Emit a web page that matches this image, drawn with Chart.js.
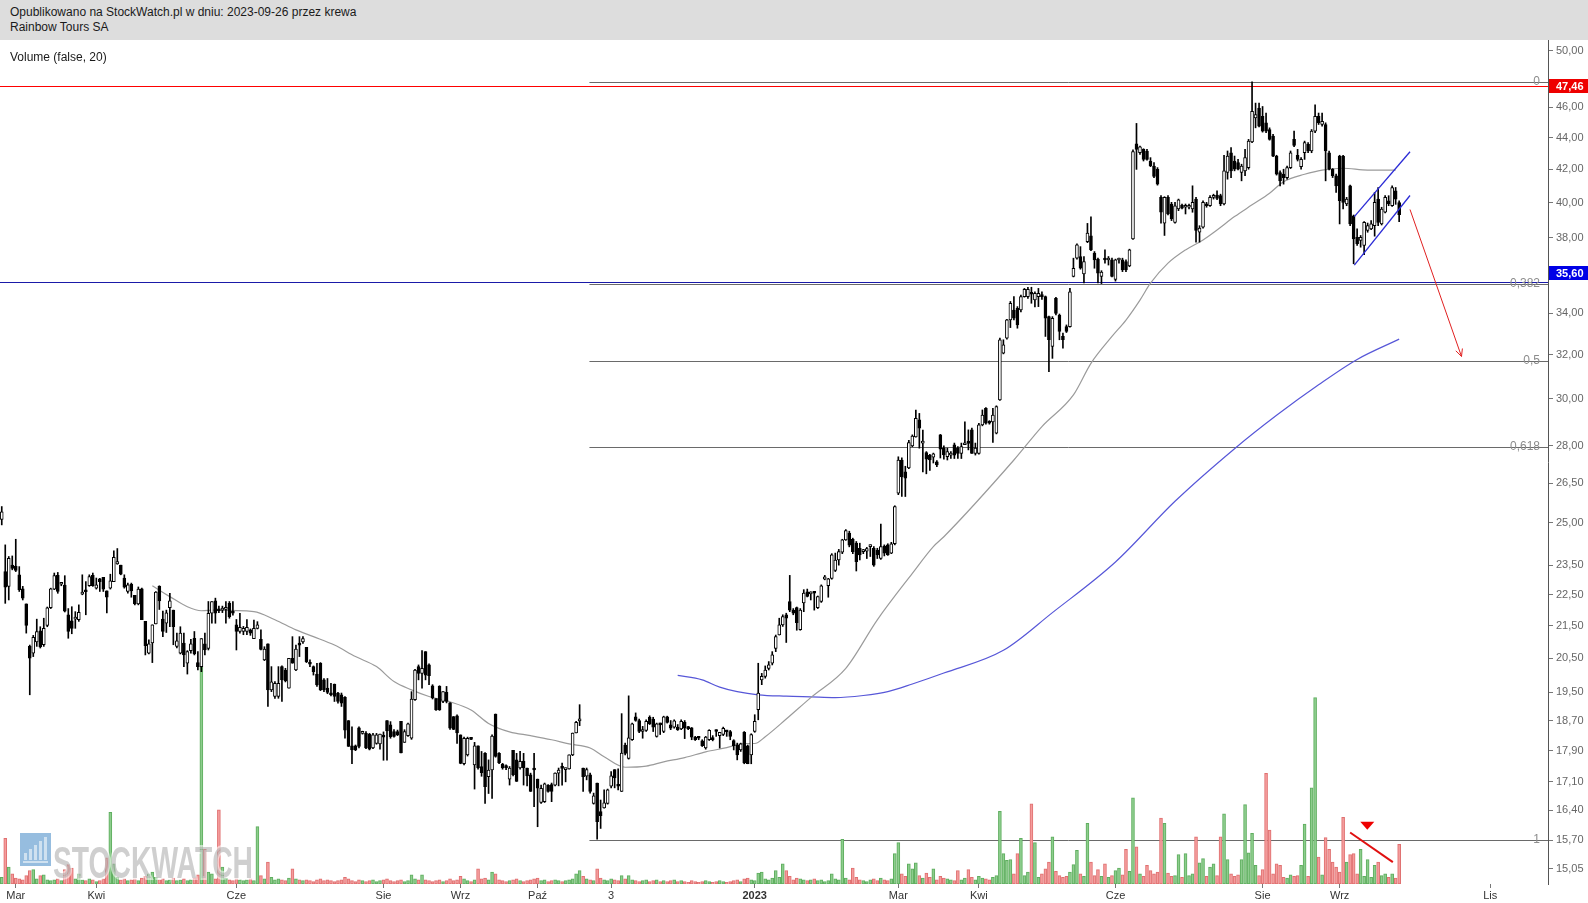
<!DOCTYPE html>
<html>
<head>
<meta charset="utf-8">
<script src="https://cdn.jsdelivr.net/npm/chart.js@4.4.0/dist/chart.umd.min.js"></script>
<style>
  html, body { margin: 0; padding: 0; background: #fff; }
  body { width: 1588px; height: 903px; overflow: hidden; font-family: "Liberation Sans", Arial, sans-serif; }
  .header { height: 40px; background: #dddddd; color: #1a1a1a; font-size: 12px; line-height: 15px; padding: 5px 0 0 10px; box-sizing: border-box; }
  .wrap { position: relative; width: 1588px; height: 863px; }
</style>
</head>
<body>
<div class="header">Opublikowano na StockWatch.pl w dniu: 2023-09-26 przez krewa<br>Rainbow Tours SA</div>
<div class="wrap"><canvas id="chart" width="1588" height="863"></canvas></div>
<script>
// x axis month labels (trading-day index -> label)
const monthIdx = [4, 27, 67, 109, 131, 153, 174, 215, 256, 279, 318, 360, 382, 425];
const monthText = ['Mar', 'Kwi', 'Cze', 'Sie', 'Wrz', 'Paź', '3', '2023', 'Mar', 'Kwi', 'Cze', 'Sie', 'Wrz', 'Lis'];
const priceTicks = [50, 46, 44, 42, 40, 38, 36, 34, 32, 30, 28, 26.5, 25, 23.5, 22.5, 21.5, 20.5, 19.5, 18.7, 17.9, 17.1, 16.4, 15.7, 15.05];

// daily OHLC, 2022-02-23 .. 2023-09-26
const open = [
  25.13, 23.28, 22.78, 23.5, 23.47, 23.17, 22.7, 22.2, 20.86, 20.65,
  21.0, 21.34, 20.91, 21.51, 22.08, 22.69, 23.15, 22.85, 22.82, 21.85,
  21.66, 21.71, 21.69, 22.52, 22.64, 22.8, 23.15, 22.72, 23.03, 23.08,
  22.63, 22.72, 22.94, 23.54, 23.5, 23.06, 22.61, 22.85, 22.48, 22.2,
  22.7, 21.64, 20.65, 20.97, 21.56, 22.78, 21.71, 21.58, 22.08, 22.0,
  20.86, 20.65, 20.96, 20.35, 20.73, 21.11, 20.37, 20.25, 20.94, 20.8,
  21.9, 22.3, 22.0, 22.0, 22.02, 22.22, 21.95, 21.53, 21.32, 21.32,
  21.32, 21.37, 21.1, 21.42, 21.08, 20.45, 20.94, 19.57, 19.38, 19.38,
  20.25, 20.15, 19.62, 20.5, 20.15, 20.94, 21.0, 20.83, 20.35, 20.25,
  20.03, 20.35, 19.86, 19.62, 19.47, 19.73, 19.48, 19.43, 19.36, 18.71,
  18.03, 18.03, 18.51, 18.36, 18.36, 18.34, 17.97, 18.09, 18.08, 18.3,
  18.71, 18.59, 18.41, 18.41, 18.69, 18.12, 18.3, 18.23, 19.29, 20.25,
  20.05, 20.7, 20.3, 19.69, 19.32, 19.67, 19.24, 19.5, 19.2, 18.82,
  18.84, 18.32, 17.56, 17.79, 18.21, 17.53, 18.03, 17.49, 17.83, 17.23,
  17.4, 18.89, 17.83, 17.55, 17.47, 17.17, 17.91, 17.66, 17.45, 17.62,
  17.45, 17.28, 17.42, 17.17, 16.59, 16.61, 17.01, 17.03, 17.02, 17.32,
  17.45, 17.41, 17.43, 17.79, 18.37, 18.7, 17.45, 17.24, 17.28, 16.57,
  17.07, 16.37, 16.46, 16.57, 16.99, 17.41, 17.03, 16.86, 18.05, 17.7,
  18.19, 18.81, 18.71, 18.41, 18.44, 18.8, 18.75, 18.28, 18.6, 18.41,
  18.81, 18.59, 18.53, 18.53, 18.48, 18.66, 18.5, 18.51, 18.26, 18.24,
  18.16, 17.97, 18.19, 18.25, 18.42, 18.3, 18.33, 18.41, 18.41, 18.17,
  18.05, 17.92, 18.39, 18.03, 17.79, 18.41, 19.01, 19.86, 19.96, 20.2,
  20.35, 20.8, 21.21, 21.53, 21.85, 22.28, 22.0, 22.08, 21.38, 22.23,
  22.6, 22.53, 22.56, 22.08, 22.28, 23.02, 22.8, 23.05, 23.32, 23.68,
  23.95, 24.39, 24.63, 24.41, 24.27, 24.09, 23.97, 23.99, 24.15, 24.09,
  24.03, 23.73, 24.17, 24.21, 23.92, 24.25, 26.12, 27.42, 26.95, 27.1,
  27.99, 28.37, 29.08, 28.11, 27.72, 27.61, 27.53, 27.35, 28.45, 27.9,
  27.55, 27.62, 28.04, 27.9, 27.69, 28.04, 28.11, 28.66, 27.69, 27.69,
  28.87, 29.58, 29.0, 29.0, 28.52, 29.95, 32.07, 32.79, 33.68, 34.17,
  34.25, 34.17, 34.85, 34.85, 34.98, 34.68, 34.85, 34.93, 34.85, 33.84,
  32.39, 34.76, 33.92, 32.87, 33.35, 33.35, 35.9, 36.87, 36.96, 36.03,
  37.78, 38.1, 37.14, 36.82, 35.9, 36.78, 36.77, 36.78, 35.74, 36.77,
  36.78, 36.69, 36.45, 37.93, 43.6, 43.04, 43.25, 43.15, 42.52, 42.21,
  42.01, 40.31, 38.82, 40.31, 39.92, 38.86, 39.63, 39.86, 39.73, 39.73,
  39.63, 40.21, 38.3, 38.58, 39.92, 39.82, 40.31, 40.44, 40.41, 39.92,
  41.81, 43.04, 42.52, 42.42, 41.81, 41.91, 42.11, 43.72, 45.29, 45.95,
  45.4, 44.97, 44.53, 44.1, 42.83, 41.81, 41.71, 41.5, 42.11, 43.89,
  42.88, 42.17, 43.04, 43.57, 43.15, 44.42, 45.4, 44.86, 44.86, 43.04,
  42.01, 41.61, 42.83, 42.83, 39.92, 41.0, 39.24, 38.02, 37.84, 37.56,
  38.4, 38.49, 38.67, 40.21, 38.77, 39.44, 40.11, 39.82, 40.7, 40.0
];
const high = [
  25.61, 24.21, 23.8, 23.82, 24.41, 23.45, 22.78, 22.2, 20.9, 21.2,
  21.71, 21.47, 21.74, 22.1, 22.72, 23.23, 23.25, 22.89, 23.14, 22.05,
  22.11, 21.95, 22.17, 23.17, 22.94, 23.17, 23.23, 23.06, 23.05, 23.08,
  22.63, 23.19, 24.0, 24.08, 23.5, 23.17, 22.89, 22.89, 22.48, 22.76,
  22.72, 21.64, 21.06, 21.53, 22.61, 22.8, 21.97, 22.0, 22.55, 22.0,
  21.27, 21.47, 21.27, 20.73, 21.08, 21.32, 20.7, 21.1, 21.27, 22.28,
  22.28, 22.39, 22.13, 22.13, 22.28, 22.28, 22.28, 21.7, 21.9, 21.48,
  21.7, 21.4, 21.68, 21.63, 21.37, 20.85, 20.94, 20.25, 19.81, 20.25,
  20.27, 20.2, 20.5, 21.16, 20.9, 21.16, 21.16, 20.83, 20.45, 20.27,
  20.35, 20.37, 19.9, 19.9, 19.76, 19.74, 19.5, 19.48, 19.38, 18.71,
  18.54, 18.05, 18.54, 18.42, 18.41, 18.36, 18.36, 18.36, 18.34, 18.4,
  18.71, 18.68, 18.46, 18.45, 18.69, 18.46, 18.64, 19.52, 20.17, 20.3,
  20.73, 20.7, 20.33, 19.72, 19.32, 19.69, 19.52, 19.67, 19.21, 18.82,
  18.87, 18.32, 18.26, 18.26, 18.22, 18.12, 18.03, 17.88, 17.85, 17.66,
  18.32, 18.89, 17.85, 17.57, 17.53, 17.49, 17.91, 17.83, 17.88, 17.83,
  17.45, 17.32, 17.83, 17.17, 17.02, 17.07, 17.03, 17.07, 17.33, 17.45,
  17.58, 17.45, 17.79, 18.37, 18.69, 19.15, 17.45, 17.45, 17.32, 16.82,
  17.07, 16.65, 16.9, 16.92, 17.36, 17.41, 17.43, 18.9, 18.1, 19.4,
  18.64, 18.92, 18.75, 18.55, 18.73, 18.84, 18.8, 18.64, 18.64, 18.83,
  18.83, 18.71, 18.73, 18.6, 18.73, 18.71, 18.55, 18.52, 18.28, 18.28,
  18.19, 18.28, 18.46, 18.3, 18.46, 18.39, 18.53, 18.44, 18.44, 18.19,
  18.1, 18.1, 18.41, 18.05, 18.35, 18.87, 20.35, 20.05, 20.27, 20.4,
  20.7, 21.21, 21.74, 21.85, 21.9, 23.15, 22.05, 22.1, 22.05, 22.67,
  22.69, 22.6, 22.6, 22.46, 22.83, 23.15, 23.05, 23.9, 23.92, 24.05,
  24.41, 24.76, 24.7, 24.45, 24.33, 24.27, 24.05, 24.12, 24.21, 24.15,
  24.09, 24.96, 24.21, 24.25, 24.3, 25.64, 27.55, 27.51, 27.17, 28.22,
  28.45, 29.5, 29.36, 28.65, 27.76, 27.65, 27.7, 27.4, 28.47, 28.0,
  27.9, 27.76, 28.11, 27.97, 28.11, 29.0, 28.66, 28.73, 28.11, 28.94,
  29.51, 29.61, 29.05, 29.58, 29.69, 32.79, 32.71, 33.71, 34.6, 34.85,
  34.34, 34.93, 35.27, 35.33, 35.33, 35.1, 35.27, 35.1, 34.88, 33.87,
  33.84, 34.81, 33.97, 33.03, 33.43, 35.27, 36.87, 37.65, 37.5, 36.96,
  38.8, 39.18, 37.23, 36.87, 36.2, 37.32, 36.96, 36.87, 36.82, 36.87,
  36.87, 36.78, 37.36, 43.22, 44.93, 43.46, 43.29, 43.25, 42.73, 42.42,
  42.11, 40.41, 40.35, 40.41, 40.02, 40.02, 40.21, 39.92, 39.92, 39.92,
  41.0, 40.31, 38.67, 40.11, 40.02, 40.41, 40.5, 40.7, 40.5, 42.88,
  43.15, 43.36, 42.83, 42.62, 42.32, 43.25, 43.89, 47.75, 46.29, 46.29,
  46.06, 45.62, 44.64, 44.21, 42.88, 41.91, 42.01, 42.21, 43.15, 44.42,
  43.25, 42.73, 43.78, 43.68, 44.53, 46.18, 45.62, 45.62, 44.97, 43.15,
  42.05, 41.71, 42.88, 42.88, 40.31, 41.04, 39.28, 38.49, 38.12, 38.9,
  38.82, 38.96, 40.6, 40.9, 39.73, 40.41, 40.41, 41.0, 40.9, 40.1
];
const low = [
  24.93, 22.22, 22.33, 23.34, 23.28, 22.61, 22.33, 21.27, 19.43, 20.55,
  20.86, 20.81, 20.86, 21.47, 22.05, 22.67, 22.55, 22.8, 21.94, 21.11,
  21.25, 21.42, 21.64, 22.5, 21.85, 22.78, 22.78, 22.69, 22.61, 22.61,
  21.91, 22.69, 22.94, 23.53, 23.17, 22.72, 22.55, 22.42, 22.17, 22.17,
  21.69, 20.6, 20.63, 20.37, 21.56, 22.02, 21.16, 21.29, 21.47, 20.91,
  20.81, 20.63, 20.25, 20.03, 20.65, 20.6, 20.15, 20.1, 20.6, 20.75,
  21.58, 21.58, 21.92, 21.92, 21.58, 21.74, 21.84, 20.75, 21.27, 21.22,
  21.22, 21.2, 21.1, 21.4, 20.75, 20.43, 19.1, 19.52, 19.33, 19.33,
  19.24, 19.8, 19.62, 20.35, 20.13, 20.55, 20.95, 20.37, 20.25, 20.0,
  19.67, 19.55, 19.52, 19.46, 19.4, 19.24, 19.19, 19.1, 18.23, 18.01,
  17.56, 17.9, 17.97, 18.34, 17.95, 17.92, 17.95, 18.07, 17.94, 17.65,
  17.65, 18.23, 18.26, 18.3, 17.84, 18.12, 18.28, 18.2, 19.27, 19.86,
  19.62, 19.86, 19.72, 19.31, 18.99, 18.99, 19.21, 19.2, 18.47, 18.46,
  18.09, 17.56, 17.53, 17.76, 18.19, 16.92, 17.42, 17.24, 16.57, 16.81,
  16.69, 17.73, 17.56, 17.42, 17.41, 17.02, 17.25, 17.11, 17.42, 17.02,
  17.0, 16.86, 16.49, 16.01, 16.57, 16.59, 16.84, 16.61, 17.0, 17.0,
  17.02, 17.1, 17.42, 17.77, 18.37, 18.57, 16.86, 17.15, 16.82, 16.55,
  15.72, 15.97, 16.45, 16.55, 16.95, 16.95, 16.9, 16.86, 17.79, 17.68,
  18.17, 18.69, 18.38, 18.23, 18.41, 18.6, 18.41, 18.26, 18.33, 18.38,
  18.64, 18.46, 18.5, 18.44, 18.46, 18.22, 18.46, 18.19, 18.17, 18.19,
  18.01, 17.94, 18.17, 18.16, 18.28, 17.97, 18.3, 18.28, 18.19, 17.92,
  17.66, 17.88, 17.56, 17.56, 17.56, 18.39, 18.73, 19.72, 19.91, 20.15,
  20.3, 20.7, 21.21, 21.48, 20.98, 21.95, 21.85, 21.36, 21.36, 21.95,
  22.43, 22.33, 22.0, 22.05, 22.25, 23.0, 22.42, 23.02, 23.28, 23.5,
  23.9, 24.37, 24.14, 23.9, 23.3, 23.68, 23.9, 23.73, 23.8, 23.46,
  23.73, 23.7, 23.82, 23.84, 23.9, 24.21, 26.06, 25.99, 25.99, 27.07,
  27.96, 28.35, 27.9, 26.95, 26.87, 27.0, 27.3, 27.15, 27.5, 27.45,
  27.42, 27.48, 27.48, 27.48, 27.48, 28.04, 27.83, 27.69, 27.62, 27.66,
  28.83, 28.9, 28.9, 28.14, 28.49, 29.92, 32.04, 32.74, 33.3, 33.68,
  33.27, 34.08, 34.82, 34.76, 34.51, 34.32, 34.34, 34.71, 32.87, 31.22,
  31.83, 33.92, 32.71, 32.31, 33.06, 33.32, 35.87, 36.82, 36.28, 35.55,
  37.72, 37.28, 36.33, 35.55, 35.52, 36.6, 36.5, 35.87, 35.65, 36.6,
  36.15, 36.15, 36.41, 37.9, 42.0, 42.94, 42.52, 42.57, 42.17, 41.5,
  41.04, 38.82, 38.12, 39.28, 38.96, 38.82, 39.53, 39.63, 39.34, 39.63,
  39.44, 37.75, 37.75, 38.53, 39.73, 39.78, 40.21, 40.17, 39.82, 39.86,
  41.4, 41.5, 41.91, 41.97, 41.3, 41.61, 42.01, 43.68, 44.64, 44.7,
  44.36, 44.32, 43.84, 42.79, 41.65, 41.0, 41.1, 41.4, 42.05, 43.42,
  42.52, 42.01, 42.62, 43.04, 43.04, 44.32, 44.86, 44.75, 41.3, 41.97,
  41.5, 40.6, 38.77, 39.63, 39.82, 38.67, 36.57, 37.56, 37.47, 37.06,
  38.3, 38.45, 38.08, 38.67, 38.71, 39.4, 39.82, 39.78, 39.9, 38.9
];
const close = [
  25.41, 22.75, 23.74, 23.39, 23.32, 22.67, 22.39, 21.51, 20.5, 21.14,
  21.32, 20.84, 21.42, 22.07, 22.7, 23.14, 22.61, 22.87, 21.97, 21.32,
  21.42, 21.74, 21.93, 22.59, 22.6, 23.11, 22.8, 22.83, 22.94, 22.69,
  22.42, 22.97, 23.77, 23.62, 23.19, 22.75, 22.83, 22.63, 22.2, 22.69,
  21.69, 20.88, 20.94, 21.53, 22.59, 22.3, 21.32, 21.91, 22.3, 21.47,
  21.03, 21.27, 20.6, 20.7, 20.94, 20.63, 20.25, 21.1, 20.75, 21.9,
  22.28, 21.9, 21.98, 22.02, 22.09, 21.79, 21.9, 21.32, 21.45, 21.42,
  21.45, 21.27, 21.42, 21.53, 20.77, 20.78, 19.57, 19.8, 19.76, 19.76,
  19.86, 19.83, 20.5, 20.35, 20.78, 20.9, 21.1, 20.4, 20.32, 20.1,
  19.71, 19.57, 19.57, 19.5, 19.43, 19.38, 19.24, 19.19, 18.45, 18.01,
  17.92, 17.92, 18.01, 18.41, 17.97, 17.94, 18.32, 18.32, 18.34, 18.26,
  18.43, 18.27, 18.28, 18.32, 17.84, 18.41, 18.62, 19.31, 20.15, 20.05,
  20.2, 20.0, 19.98, 19.34, 19.0, 19.0, 19.52, 19.24, 18.5, 18.47,
  18.37, 17.57, 18.23, 18.23, 18.2, 18.03, 17.45, 17.33, 16.98, 17.4,
  18.29, 17.75, 17.59, 17.45, 17.46, 17.45, 17.28, 17.11, 17.62, 17.45,
  17.25, 16.86, 17.4, 16.94, 16.94, 17.05, 16.86, 16.86, 17.32, 17.4,
  17.44, 17.45, 17.79, 18.37, 18.66, 18.72, 17.23, 17.41, 16.86, 16.75,
  16.13, 16.27, 16.58, 16.9, 17.25, 17.2, 16.99, 17.84, 17.83, 18.24,
  18.62, 18.71, 18.41, 18.46, 18.69, 18.62, 18.53, 18.62, 18.59, 18.81,
  18.66, 18.5, 18.7, 18.46, 18.69, 18.5, 18.49, 18.26, 18.19, 18.23,
  18.03, 18.26, 18.44, 18.19, 18.41, 18.39, 18.5, 18.4, 18.28, 18.03,
  17.79, 18.08, 17.58, 17.56, 18.33, 18.69, 19.48, 19.96, 20.15, 20.3,
  20.6, 21.16, 21.53, 21.79, 21.74, 22.0, 21.9, 21.6, 22.0, 22.56,
  22.45, 22.58, 22.55, 22.44, 22.8, 23.1, 23.03, 23.86, 23.68, 23.97,
  24.39, 24.72, 24.2, 23.97, 23.62, 23.86, 24.03, 24.08, 24.17, 23.5,
  23.86, 24.15, 23.92, 23.86, 24.25, 25.61, 27.42, 26.75, 26.7, 28.13,
  28.4, 29.15, 28.73, 28.17, 27.45, 27.42, 27.67, 27.22, 27.86, 27.63,
  27.76, 27.63, 27.62, 27.69, 27.97, 28.11, 28.1, 27.69, 27.9, 28.87,
  29.29, 28.94, 28.94, 29.29, 29.66, 32.71, 32.47, 33.68, 34.51, 33.76,
  33.43, 34.85, 35.22, 35.22, 34.97, 35.02, 35.02, 34.85, 33.76, 32.71,
  33.76, 34.0, 33.11, 32.71, 33.11, 35.1, 36.33, 37.6, 36.33, 36.69,
  38.25, 37.32, 36.78, 36.07, 36.12, 36.77, 36.78, 35.9, 36.78, 36.78,
  36.24, 36.24, 37.32, 43.11, 43.25, 43.42, 42.62, 42.62, 42.21, 41.57,
  41.1, 39.44, 40.31, 39.34, 39.05, 39.82, 40.17, 39.67, 39.82, 39.82,
  40.02, 38.4, 38.53, 40.02, 39.82, 40.31, 40.41, 40.25, 39.92, 41.91,
  42.83, 41.91, 42.01, 42.01, 42.21, 42.73, 43.78, 45.73, 45.51, 44.75,
  44.42, 44.42, 43.89, 42.83, 41.71, 41.3, 41.5, 42.11, 43.04, 43.51,
  42.62, 42.62, 43.68, 43.15, 44.42, 45.4, 44.97, 45.07, 43.15, 42.01,
  41.61, 41.0, 40.11, 40.02, 40.21, 38.77, 37.93, 37.66, 38.02, 38.86,
  38.67, 38.77, 40.02, 38.86, 39.63, 40.31, 39.92, 40.9, 40.2, 39.3
];
// volume, thousands of shares
const volume = [
  8, 54, 20, 12, 7, 6, 5, 10, 16, 17,
  6, 10, 11, 5, 4, 5, 6, 4, 17, 23,
  19, 6, 12, 5, 4, 6, 5, 3, 4, 6,
  31, 85, 24, 8, 5, 6, 4, 5, 6, 4,
  7, 9, 12, 14, 8, 5, 6, 4, 5, 7,
  4, 5, 6, 4, 5, 7, 11, 257, 41, 14,
  12, 6, 88, 20, 7, 5, 4, 6, 5, 4,
  5, 6, 4, 68, 10, 6, 26, 8, 5, 6,
  5, 4, 7, 18, 6, 5, 4, 5, 4, 3,
  5, 6, 4, 5, 4, 3, 4, 5, 8, 6,
  4, 3, 5, 4, 3, 4, 5, 3, 4, 5,
  6, 4, 3, 4, 5, 3, 4, 11, 6, 5,
  11, 5, 4, 3, 4, 5, 3, 4, 6, 4,
  5, 9, 6, 4, 3, 5, 18, 6, 7, 5,
  14, 12, 5, 4, 3, 4, 5, 6, 4, 3,
  4, 5, 6, 7, 4, 5, 3, 4, 5, 4,
  3, 4, 5, 6, 12, 16, 9, 6, 5, 4,
  18, 7, 5, 4, 6, 5, 4, 10, 6, 10,
  5, 4, 3, 4, 5, 3, 4, 5, 3, 4,
  3, 4, 5, 3, 4, 3, 2, 4, 3, 2,
  3, 4, 3, 2, 3, 4, 3, 2, 3, 4,
  5, 3, 6, 7, 5, 4, 13, 14, 6, 5,
  7, 16, 8, 24, 16, 9, 5, 7, 6, 5,
  4, 5, 6, 4, 5, 3, 4, 12, 6, 5,
  53, 7, 5, 19, 8, 5, 4, 3, 5, 6,
  4, 7, 5, 4, 6, 36, 49, 12, 9, 24,
  18, 25, 10, 7, 13, 8, 18, 5, 9, 7,
  6, 5, 4, 16, 5, 7, 17, 8, 5, 9,
  7, 6, 5, 8, 10, 86, 36, 28, 29, 12,
  36, 54, 10, 14, 95, 49, 8, 12, 18, 26,
  56, 15, 10, 8, 9, 14, 23, 40, 12, 9,
  72, 26, 10, 17, 9, 24, 8, 10, 16, 19,
  11, 41, 15, 102, 44, 12, 9, 22, 16, 12,
  14, 78, 72, 13, 9, 10, 35, 8, 36, 10,
  12, 56, 25, 30, 9, 20, 24, 10, 56, 83,
  29, 12, 9, 11, 29, 94, 37, 60, 22, 10,
  17, 131, 64, 12, 24, 22, 8, 7, 11, 9,
  10, 22, 71, 9, 114, 221, 32, 11, 55, 41,
  26, 20, 14, 79, 26, 35, 36, 12, 41, 9,
  29, 8, 22, 26, 10, 12, 8, 12, 7, 47
];

// moving averages (index, value)
const grayIdx = [43, 48, 53, 57, 61, 72, 78, 84, 89, 95, 101, 107, 112, 117, 122, 128, 134, 139, 145, 151, 157, 162, 168, 172, 178, 184, 189, 195, 201, 207, 212, 215, 218, 224, 231, 241, 250, 260, 266, 269, 289, 297, 306, 311, 317, 321, 325, 328, 333, 338, 343, 347, 352, 357, 362, 366, 372, 377, 383, 390, 398];
const grayVal = [22.8, 22.44, 22.11, 21.98, 22.0, 21.95, 21.69, 21.37, 21.16, 20.9, 20.55, 20.25, 19.81, 19.57, 19.38, 19.23, 19.0, 18.63, 18.4, 18.3, 18.19, 18.08, 17.97, 17.74, 17.47, 17.5, 17.61, 17.72, 17.87, 17.98, 18.09, 18.09, 18.27, 18.75, 19.35, 20.2, 21.69, 23.22, 24.15, 24.5, 27.42, 28.8, 30.17, 31.6, 32.87, 33.67, 34.67, 35.54, 36.6, 37.32, 37.87, 38.43, 39.19, 39.87, 40.56, 41.25, 41.7, 41.96, 42.07, 41.96, 41.96];
const blueIdx = [193, 200, 205, 210, 216, 224, 231, 238, 246, 253, 260, 269, 286, 300, 318, 335, 352, 364, 376, 387, 399];
const blueVal = [19.99, 19.86, 19.65, 19.52, 19.43, 19.39, 19.37, 19.35, 19.41, 19.52, 19.74, 20.06, 20.74, 21.92, 23.61, 25.81, 27.88, 29.28, 30.62, 31.78, 32.74];

// drawn studies
const fibHigh = 47.75, fibLow = 15.70, fibStart = 167.8;
const fibLevels = [0, 0.382, 0.5, 0.618, 1];
const fibText = ['0', '0,382', '0,5', '0,618', '1'];
const redLevel = 47.46, blueLevel = 35.60;
const channelUpper = [[386.2, 39.19], [402.1, 43.1]];
const channelLower = [[386.2, 36.5], [402.1, 40.42]];
const arrowPts = [[402.1, 39.6], [416.8, 31.92]];
const volLine = [[385.0, 61], [397.2, 26]];
const volMarker = [389.9, 69];

const N = 442;
const labels = Array.from({ length: N }, (_, i) => i);
const up = close.map((c, i) => c >= open[i]);
const wickData = high.map((h, i) => [low[i], h]);
const bodyData = open.map((o, i) => [Math.min(o, close[i]), Math.max(o, close[i])]);

function sparse(idx, val) {
    const arr = new Array(N).fill(null);
    idx.forEach((i, k) => { arr[i] = val[k]; });
    return arr;
}

const FONT = '"Liberation Sans", Arial, sans-serif';

const studies = {
    id: 'studies',
    beforeDatasetsDraw(chart) {
        const { ctx, chartArea: a, scales: { x, y } } = chart;
        ctx.save();
        ctx.lineWidth = 1;
        // fibonacci retracement lines
        ctx.strokeStyle = '#6a6a6a';
        const fx = x.getPixelForValue(fibStart);
        fibLevels.forEach(l => {
            const py = Math.round(y.getPixelForValue(fibHigh - l * (fibHigh - fibLow))) + 0.5;
            ctx.beginPath(); ctx.moveTo(fx, py); ctx.lineTo(a.right, py); ctx.stroke();
        });
        // horizontal levels
        [[redLevel, '#ff0000'], [blueLevel, '#1a1aa8']].forEach(([v, c]) => {
            const py = Math.round(y.getPixelForValue(v)) + 0.5;
            ctx.strokeStyle = c;
            ctx.beginPath(); ctx.moveTo(a.left, py); ctx.lineTo(a.right, py); ctx.stroke();
        });
        ctx.restore();
    },
    afterDatasetsDraw(chart) {
        const { ctx, chartArea: a, scales: { x, y, vol } } = chart;
        const P = p => [x.getPixelForValue(p[0]), y.getPixelForValue(p[1])];
        ctx.save();

        // fib labels
        ctx.font = '12px ' + FONT;
        ctx.fillStyle = '#8c8c8c';
        ctx.textAlign = 'right';
        ctx.textBaseline = 'middle';
        fibLevels.forEach((l, k) => {
            const py = y.getPixelForValue(fibHigh - l * (fibHigh - fibLow));
            ctx.fillText(fibText[k], a.right - 8, py);
        });

        // channel
        ctx.strokeStyle = '#2b2bd6';
        ctx.lineWidth = 1.3;
        [channelUpper, channelLower].forEach(seg => {
            const p0 = P(seg[0]), p1 = P(seg[1]);
            ctx.beginPath(); ctx.moveTo(p0[0], p0[1]); ctx.lineTo(p1[0], p1[1]); ctx.stroke();
        });

        // arrow
        ctx.strokeStyle = '#e02020';
        ctx.lineWidth = 1;
        const a0 = P(arrowPts[0]), a1 = P(arrowPts[1]);
        ctx.beginPath(); ctx.moveTo(a0[0], a0[1]); ctx.lineTo(a1[0], a1[1]); ctx.stroke();
        const ang = Math.atan2(a1[1] - a0[1], a1[0] - a0[0]);
        [0.45, -0.45].forEach(d => {
            ctx.beginPath();
            ctx.moveTo(a1[0], a1[1]);
            ctx.lineTo(a1[0] - 8 * Math.cos(ang + d), a1[1] - 8 * Math.sin(ang + d));
            ctx.stroke();
        });

        // volume divergence mark
        ctx.strokeStyle = '#e01010';
        ctx.lineWidth = 2;
        ctx.beginPath();
        ctx.moveTo(x.getPixelForValue(volLine[0][0]), vol.getPixelForValue(volLine[0][1]));
        ctx.lineTo(x.getPixelForValue(volLine[1][0]), vol.getPixelForValue(volLine[1][1]));
        ctx.stroke();
        const mx = x.getPixelForValue(volMarker[0]), my = vol.getPixelForValue(volMarker[1]);
        ctx.fillStyle = '#ee0000';
        ctx.beginPath(); ctx.moveTo(mx - 7, my - 4); ctx.lineTo(mx + 7, my - 4); ctx.lineTo(mx, my + 4); ctx.closePath(); ctx.fill();

        // study caption
        ctx.textAlign = 'left';
        ctx.fillStyle = '#1a1a1a';
        ctx.font = '12px ' + FONT;
        ctx.fillText('Volume (false, 20)', 10, 18);

        // watermark
        ctx.globalAlpha = 0.55;
        const ix = 20, iy = 793;
        ctx.fillStyle = '#3f86c4';
        ctx.fillRect(ix, iy, 31, 33);
        ctx.fillStyle = '#ffffff';
        [7, 11, 15, 19, 23].forEach((h, k) => ctx.fillRect(ix + 4 + k * 5, iy + 27 - h, 3, h));
        ctx.fillRect(ix + 3, iy + 28, 25, 2);
        ctx.font = 'bold 45px ' + FONT;
        const w = ctx.measureText('STOCKWATCH').width;
        ctx.translate(53, 826);
        ctx.scale(200 / w, 1);
        ctx.lineWidth = 4;
        ctx.strokeStyle = '#ffffff';
        ctx.strokeText('STOCKWATCH', 0, 0);
        ctx.fillStyle = '#a8a8a8';
        ctx.fillText('STOCKWATCH', 0, 0);
        ctx.restore();
    },
    afterDraw(chart) {
        const { ctx, chartArea: a, scales: { y } } = chart;
        ctx.save();
        ctx.font = 'bold 11px ' + FONT;
        ctx.textBaseline = 'middle';
        [[redLevel, '47,46', '#ee0000', 0], [blueLevel, '35,60', '#0000e6', -9]].forEach(([v, t, c, dy]) => {
            const py = Math.round(y.getPixelForValue(v)) + dy;
            ctx.fillStyle = c;
            ctx.fillRect(a.right + 1, py - 7, 40, 14);
            ctx.fillStyle = '#ffffff';
            ctx.fillText(t, a.right + 8, py + 0.5);
        });
        ctx.restore();
    }
};

function noPad(s) {
    s.paddingTop = 0;
    s.paddingBottom = 0;
    s.paddingLeft = 0;
    s.paddingRight = 0;
}

new Chart(document.getElementById('chart'), {
    type: 'bar',
    data: {
        labels: labels,
        datasets: [
            {
                label: 'body',
                data: bodyData,
                yAxisID: 'y',
                backgroundColor: up.map(u => u ? '#ffffff' : '#000000'),
                borderColor: '#000000',
                borderWidth: 1,
                borderSkipped: false,
                barThickness: 3,
                minBarLength: 2,
                grouped: false,
                order: 1
            },
            {
                label: 'wick',
                data: wickData,
                yAxisID: 'y',
                backgroundColor: '#000000',
                barThickness: 1,
                grouped: false,
                order: 2
            },
            {
                type: 'line',
                label: 'MA gray',
                data: sparse(grayIdx, grayVal),
                yAxisID: 'y',
                borderColor: '#9b9b9b',
                borderWidth: 1.2,
                pointRadius: 0,
                spanGaps: true,
                cubicInterpolationMode: 'monotone',
                fill: false,
                order: 3
            },
            {
                type: 'line',
                label: 'MA blue',
                data: sparse(blueIdx, blueVal),
                yAxisID: 'y',
                borderColor: '#5757d8',
                borderWidth: 1.2,
                pointRadius: 0,
                spanGaps: true,
                cubicInterpolationMode: 'monotone',
                fill: false,
                order: 4
            },
            {
                label: 'volume',
                data: volume,
                yAxisID: 'vol',
                backgroundColor: up.map(u => u ? 'rgba(140,205,140,0.9)' : 'rgba(245,155,155,0.9)'),
                borderColor: up.map(u => u ? '#5fae5f' : '#e07070'),
                borderWidth: 1,
                borderSkipped: false,
                barThickness: 3,
                grouped: false,
                order: 6
            }
        ]
    },
    options: {
        responsive: false,
        animation: false,
        layout: { padding: 0 },
        plugins: {
            legend: { display: false },
            tooltip: { enabled: false }
        },
        scales: {
            x: {
                type: 'category',
                offset: true,
                grid: { drawOnChartArea: false, drawTicks: true, tickLength: 4, color: '#777', offset: false },
                border: { display: false },
                ticks: {
                    autoSkip: false,
                    maxRotation: 0,
                    padding: 1,
                    color: '#333',
                    font: ctx => ({ family: FONT, size: 11, weight: monthText[ctx.index] === '2023' ? 'bold' : 'normal' }),
                    callback: (v, i) => monthText[i]
                },
                afterBuildTicks: s => { s.ticks = monthIdx.map(v => ({ value: v })); },
                afterFit: s => { s.height = 19; noPad(s); }
            },
            y: {
                type: 'logarithmic',
                position: 'right',
                min: 14.72,
                max: 50.78,
                bounds: 'data',
                grid: { drawOnChartArea: false, tickLength: 5, color: '#777' },
                border: { display: true, color: '#555' },
                ticks: {
                    autoSkip: false,
                    padding: 3,
                    color: '#666',
                    font: { family: FONT, size: 11 },
                    callback: v => Number(v).toFixed(2).replace('.', ',')
                },
                afterBuildTicks: s => { s.ticks = priceTicks.map(v => ({ value: v })); },
                afterFit: s => { s.width = 40; noPad(s); }
            },
            vol: {
                type: 'linear',
                display: false,
                min: 0,
                max: 1000,
                afterFit: noPad
            }
        }
    },
    plugins: [studies]
});
</script>
</body>
</html>
